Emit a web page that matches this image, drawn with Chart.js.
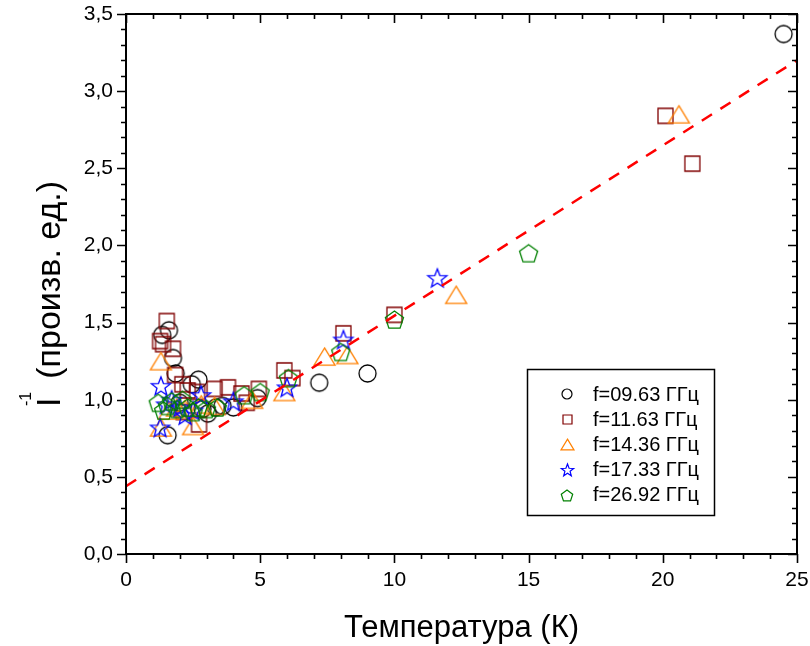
<!DOCTYPE html>
<html>
<head>
<meta charset="utf-8">
<script src="https://cdn.jsdelivr.net/npm/chart.js@4.4.1/dist/chart.umd.min.js"></script>
<style>
  html, body { margin: 0; padding: 0; background: #fff; }
  #wrap { width: 810px; height: 646px; }
</style>
</head>
<body>
<div id="wrap"><canvas id="c" width="810" height="646"></canvas></div>
<script>
// Inverse intensity vs temperature for five frequencies
const seriesLabels = ['f=09.63 ГГц', 'f=11.63 ГГц', 'f=14.36 ГГц', 'f=17.33 ГГц', 'f=26.92 ГГц'];

const f0963X = [1.35, 1.6, 1.75, 1.85, 1.55, 2.0, 2.45, 2.7, 2.85, 3.05, 3.35, 3.6, 4.0, 4.9, 7.2, 9.0, 24.5];
const f0963Y = [1.42, 1.45, 1.27, 1.17, 0.77, 0.98, 1.10, 1.13, 0.94, 0.91, 0.95, 0.96, 0.95, 1.01, 1.11, 1.17, 3.37];

const f1163X = [1.52, 1.27, 1.38, 1.75, 1.83, 2.1, 2.3, 2.65, 2.72, 2.15, 3.3, 3.8, 4.3, 4.5, 4.95, 5.9, 6.2, 8.1, 10.0, 20.1, 21.1];
const f1163Y = [1.51, 1.38, 1.36, 1.33, 1.16, 1.10, 1.06, 1.05, 0.84, 0.92, 1.07, 1.08, 1.04, 0.98, 1.07, 1.19, 1.14, 1.43, 1.55, 2.84, 2.53];

const f1436X = [1.3, 1.3, 1.6, 1.9, 2.2, 2.5, 2.8, 3.3, 4.7, 5.9, 7.4, 8.25, 12.3, 20.6];
const f1436Y = [1.25, 0.82, 0.93, 0.95, 0.94, 0.83, 0.97, 0.96, 1.00, 1.05, 1.28, 1.29, 1.68, 2.85];

const f1733X = [1.27, 1.3, 1.5, 1.7, 2.0, 2.2, 2.5, 2.8, 4.0, 6.0, 8.1, 11.6];
const f1733Y = [0.82, 1.09, 0.97, 1.00, 0.95, 0.90, 0.93, 1.03, 0.99, 1.08, 1.39, 1.79];

const f2692X = [1.2, 1.4, 1.55, 1.7, 1.9, 2.1, 2.3, 2.5, 2.7, 3.0, 3.4, 4.4, 5.0, 6.05, 8.0, 10.0, 15.0];
const f2692Y = [0.98, 0.93, 0.96, 0.99, 0.94, 1.00, 0.95, 0.92, 0.95, 0.94, 0.95, 1.03, 1.05, 1.14, 1.31, 1.52, 1.95];

// linear fit endpoints
const fitX = [0, 25];
const fitY = [0.44, 3.2];

const xTickValues = [0, 5, 10, 15, 20, 25];
const yTickValues = [0, 0.5, 1.0, 1.5, 2.0, 2.5, 3.0, 3.5];

const FONT = "'Liberation Sans', Arial, sans-serif";

function pts(xs, ys) { return xs.map((v, i) => ({ x: v, y: ys[i] })); }

// open marker glyphs drawn into small canvases
function marker(kind, r, color, lw) {
  const size = Math.ceil(2 * r + 4);
  const c = document.createElement('canvas');
  c.width = size; c.height = size;
  const g = c.getContext('2d');
  g.strokeStyle = color; g.lineWidth = lw; g.lineJoin = 'miter';
  const cx = size / 2, cy = size / 2;
  g.beginPath();
  if (kind === 'circle') {
    g.arc(cx, cy, r, 0, Math.PI * 2);
  } else if (kind === 'square') {
    g.rect(cx - r, cy - r, 2 * r, 2 * r);
  } else if (kind === 'triangle') {
    const h = 2 * r * 0.82;
    g.moveTo(cx, cy - h / 2);
    g.lineTo(cx + r, cy + h / 2);
    g.lineTo(cx - r, cy + h / 2);
    g.closePath();
  } else if (kind === 'star') {
    const ri = r * 0.42;
    for (let k = 0; k < 10; k++) {
      const rr = k % 2 === 0 ? r : ri;
      const a = -Math.PI / 2 + k * Math.PI / 5;
      const px = cx + rr * Math.cos(a), py = cy + 1 + rr * Math.sin(a);
      if (k === 0) g.moveTo(px, py); else g.lineTo(px, py);
    }
    g.closePath();
  } else if (kind === 'pentagon') {
    for (let k = 0; k < 5; k++) {
      const a = -Math.PI / 2 + k * 2 * Math.PI / 5;
      const px = cx + r * Math.cos(a), py = cy + 1 + r * Math.sin(a);
      if (k === 0) g.moveTo(px, py); else g.lineTo(px, py);
    }
    g.closePath();
  }
  g.stroke();
  return c;
}

const styles = [
  { kind: 'circle', color: '#000000', r: 8.5, lr: 5 },
  { kind: 'square', color: '#800000', r: 7.5, lr: 4.5 },
  { kind: 'triangle', color: '#FF8000', r: 10.5, lr: 6.5 },
  { kind: 'star', color: '#0000FF', r: 10, lr: 6.5 },
  { kind: 'pentagon', color: '#008000', r: 9.5, lr: 6 }
];
const plotMarks = styles.map(s => marker(s.kind, s.r, s.color, 1.3));
const legendMarks = styles.map(s => marker(s.kind, s.lr, s.color, 1.2));

const seriesData = [
  pts(f0963X, f0963Y), pts(f1163X, f1163Y), pts(f1436X, f1436Y),
  pts(f1733X, f1733Y), pts(f2692X, f2692Y)
];

const datasets = seriesData.map((d, i) => ({
  label: seriesLabels[i],
  data: d,
  pointStyle: plotMarks[i],
  pointRadius: 9,
  showLine: false,
  order: 10 - i
}));
datasets.push({
  label: 'fit',
  data: pts(fitX, fitY),
  showLine: true,
  borderColor: '#FF0000',
  borderWidth: 2.5,
  borderDash: [12, 10],
  pointRadius: 0,
  fill: false,
  order: 0
});

const framePlugin = {
  id: 'frame',
  afterDraw(chart) {
    const { ctx, chartArea: a, scales: { x, y } } = chart;
    ctx.save();
    ctx.strokeStyle = '#000';
    ctx.lineWidth = 2;
    ctx.strokeRect(a.left, a.top, a.right - a.left, a.bottom - a.top);

    ctx.lineWidth = 1.6;
    ctx.beginPath();
    for (let v = 0; v <= 25; v += 1) {
      const px = Math.round(x.getPixelForValue(v)) + 0.5;
      const L = (v % 5 === 0) ? 9 : 5;
      ctx.moveTo(px, a.bottom); ctx.lineTo(px, a.bottom + L);
      ctx.moveTo(px, a.top); ctx.lineTo(px, a.top + L);
    }
    for (let i = 0; i <= 35; i++) {
      const py = Math.round(y.getPixelForValue(i / 10)) + 0.5;
      const L = (i % 5 === 0) ? 9 : 5;
      ctx.moveTo(a.left - L, py); ctx.lineTo(a.left, py);
      ctx.moveTo(a.right - L, py); ctx.lineTo(a.right, py);
    }
    ctx.stroke();

    // legend
    const lx = 527, ly = 369, lw = 187, lh = 146;
    ctx.fillStyle = '#fff';
    ctx.fillRect(lx, ly, lw, lh);
    ctx.lineWidth = 1.5;
    ctx.strokeRect(lx + 0.5, ly + 0.5, lw, lh);
    ctx.font = '20px ' + FONT;
    ctx.fillStyle = '#000';
    ctx.textBaseline = 'middle';
    ctx.textAlign = 'left';
    seriesLabels.forEach((t, i) => {
      const ry = ly + 25 + i * 25.2;
      const m = legendMarks[i];
      ctx.drawImage(m, Math.round(567 - m.width / 2), Math.round(ry - m.height / 2));
      ctx.fillText(t, 593, ry + 1);
    });

    // axis titles
    ctx.font = '31px ' + FONT;
    ctx.textAlign = 'center';
    ctx.textBaseline = 'alphabetic';
    ctx.fillText('Температура (К)', (a.left + a.right) / 2, 637);

    ctx.save();
    const cy = (a.top + a.bottom) / 2 + 10;
    ctx.translate(60, cy);
    ctx.rotate(-Math.PI / 2);
    ctx.textAlign = 'left';
    const big = '34px ' + FONT, small = '16px ' + FONT;
    ctx.font = big;
    const wI = ctx.measureText('I').width;
    const rest = '  (произв. ед.)';
    const wR = ctx.measureText(rest).width;
    const total = wI + wR;
    const sx = -total / 2;
    ctx.fillText('I', sx, 0);
    ctx.font = small;
    ctx.fillText('-1', sx + 1, -29);
    ctx.font = big;
    ctx.fillText(rest, sx + wI, 0);
    ctx.restore();

    ctx.restore();
  }
};

new Chart(document.getElementById('c'), {
  type: 'scatter',
  data: { datasets },
  options: {
    responsive: false,
    animation: false,
    devicePixelRatio: 1,
    events: [],
    layout: { padding: { top: 14, right: 13, left: 0, bottom: 0 } },
    plugins: { legend: { display: false }, tooltip: { enabled: false } },
    scales: {
      x: {
        type: 'linear', min: 0, max: 25,
        afterFit(s) { s.height = 92; s.paddingLeft = 0; s.paddingRight = 0; },
        afterBuildTicks(s) { s.ticks = xTickValues.map(v => ({ value: v })); },
        grid: { display: false, drawTicks: false },
        border: { display: false },
        ticks: {
          color: '#000', padding: 14,
          font: { size: 21, family: FONT },
          callback: v => String(v)
        }
      },
      y: {
        type: 'linear', min: 0, max: 3.5,
        afterFit(s) { s.width = 126; s.paddingTop = 0; s.paddingBottom = 0; },
        afterBuildTicks(s) { s.ticks = yTickValues.map(v => ({ value: v })); },
        grid: { display: false, drawTicks: false },
        border: { display: false },
        ticks: {
          color: '#000', padding: 13,
          font: { size: 21, family: FONT },
          callback: v => v.toFixed(1).replace('.', ',')
        }
      }
    }
  },
  plugins: [framePlugin]
});
</script>
</body>
</html>
